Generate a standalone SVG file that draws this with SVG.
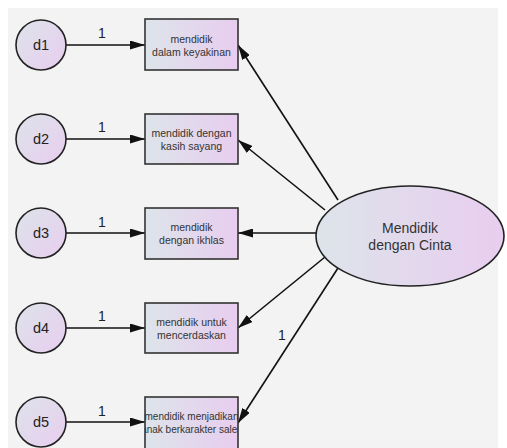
<svg xmlns="http://www.w3.org/2000/svg" width="507" height="448" viewBox="0 0 507 448">
<defs>
<linearGradient id="g" x1="0" y1="0" x2="1" y2="0">
<stop offset="0" stop-color="#dde4ea"/>
<stop offset="1" stop-color="#e8cdef"/>
</linearGradient>
<linearGradient id="gc" x1="0" y1="0" x2="1" y2="1">
<stop offset="0" stop-color="#dde4ea"/>
<stop offset="1" stop-color="#e8cdef"/>
</linearGradient>
<marker id="ah" viewBox="0 0 15 9" refX="15" refY="4.5" markerWidth="15" markerHeight="9" markerUnits="userSpaceOnUse" orient="auto">
<path d="M0,0 L15,4.5 L0,9 Z" fill="#111"/>
</marker>
<clipPath id="c5"><rect x="145" y="397" width="93" height="51"/></clipPath>
<style>
.box{fill:url(#g);stroke:#333;stroke-width:1.6}
.err{fill:url(#gc);stroke:#222;stroke-width:1.6}
.lat{fill:url(#g);stroke:#222;stroke-width:1.6}
.t{font-family:"Liberation Sans",Arial,sans-serif;font-size:10.5px;fill:#333;text-anchor:middle}
.t5{font-family:"Liberation Sans",Arial,sans-serif;font-size:10px;fill:#333;text-anchor:middle}
.d{font-family:"Liberation Sans",Arial,sans-serif;font-size:14.5px;fill:#222;text-anchor:middle}
.lt{font-family:"Liberation Sans",Arial,sans-serif;font-size:14px;fill:#333;text-anchor:middle}
.n{font-family:"Liberation Sans",Arial,sans-serif;font-size:14px;fill:#222;text-anchor:middle}
.c{stroke:#111;stroke-width:1.6;fill:none;marker-end:url(#ah)}
</style>
</defs>
<rect x="0" y="0" width="507" height="448" fill="#ffffff"/>
<rect x="8" y="8" width="490" height="440" fill="#f3f3f3"/>

<g id="connectors">
<line class="c" x1="66" y1="45" x2="145" y2="45"/>
<line class="c" x1="66" y1="139" x2="145" y2="139"/>
<line class="c" x1="66" y1="233" x2="145" y2="233"/>
<line class="c" x1="66" y1="328" x2="145" y2="328"/>
<line class="c" x1="66" y1="422" x2="145" y2="422"/>
<line class="c" x1="338" y1="200" x2="238" y2="45"/>
<line class="c" x1="325" y1="210" x2="238" y2="140"/>
<line class="c" x1="317" y1="233" x2="238" y2="233"/>
<line class="c" x1="325" y1="257" x2="238" y2="328"/>
<line class="c" x1="338" y1="268" x2="238" y2="423"/>
<text class="n" x="102" y="38">1</text>
<text class="n" x="102" y="132">1</text>
<text class="n" x="102" y="227">1</text>
<text class="n" x="102" y="321">1</text>
<text class="n" x="102" y="416">1</text>
<text class="n" x="282" y="340">1</text>
</g>

<g id="d1"><circle class="err" cx="41" cy="45" r="25"/><text class="d" x="41" y="50">d1</text></g>
<g id="d2"><circle class="err" cx="41" cy="139" r="25"/><text class="d" x="41" y="144">d2</text></g>
<g id="d3"><circle class="err" cx="41" cy="233" r="25"/><text class="d" x="41" y="238">d3</text></g>
<g id="d4"><circle class="err" cx="41" cy="328" r="25"/><text class="d" x="41" y="333">d4</text></g>
<g id="d5"><circle class="err" cx="41" cy="422" r="25"/><text class="d" x="41" y="427">d5</text></g>

<g id="box1"><rect class="box" x="145" y="19" width="93" height="51"/>
<text class="t" x="191.5" y="43">mendidik</text><text class="t" x="191.5" y="56">dalam keyakinan</text></g>
<g id="box2"><rect class="box" x="145" y="114" width="93" height="50"/>
<text class="t" x="191.5" y="137">mendidik dengan</text><text class="t" x="191.5" y="150">kasih sayang</text></g>
<g id="box3"><rect class="box" x="145" y="208" width="93" height="51"/>
<text class="t" x="191.5" y="231">mendidik</text><text class="t" x="191.5" y="244">dengan ikhlas</text></g>
<g id="box4"><rect class="box" x="145" y="303" width="93" height="50"/>
<text class="t" x="191.5" y="326">mendidik untuk</text><text class="t" x="191.5" y="339">mencerdaskan</text></g>
<g id="box5"><rect class="box" x="145" y="397" width="93" height="52"/>
<g clip-path="url(#c5)"><text class="t5" x="191.5" y="420">mendidik menjadikan</text><text class="t5" x="192" y="433">anak berkarakter saleh</text></g></g>

<g id="latent"><ellipse class="lat" cx="410" cy="236" rx="94" ry="50"/>
<text class="lt" x="410" y="233">Mendidik</text><text class="lt" x="410" y="250">dengan Cinta</text></g>
</svg>
